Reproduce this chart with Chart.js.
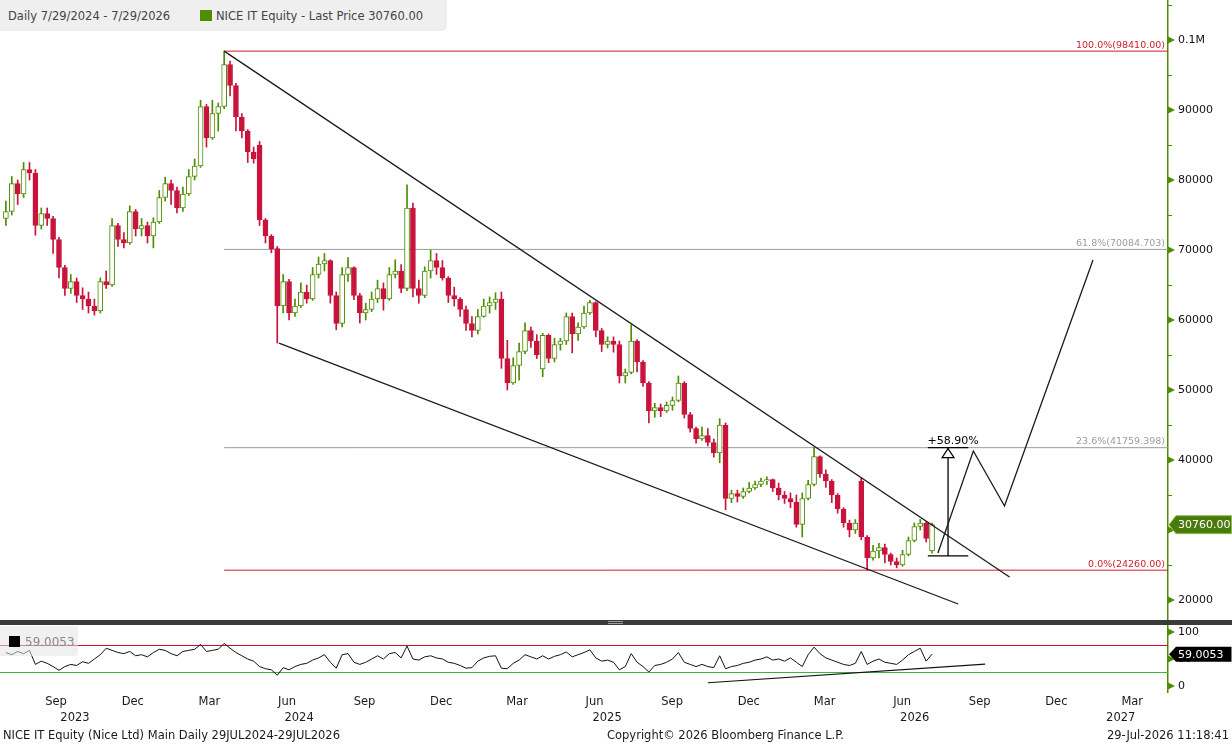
<!DOCTYPE html>
<html><head><meta charset="utf-8">
<script src="https://cdn.jsdelivr.net/npm/chart.js@4.4.1/dist/chart.umd.min.js"></script>
<style>
html,body{margin:0;padding:0;background:#fff;}
body{width:1232px;height:744px;overflow:hidden;position:relative;font-family:"DejaVu Sans",sans-serif;color:#222;}
.abs{position:absolute;}
#priceBox{left:0;top:0;width:1232px;height:620px;}
#rsiBox{left:0;top:625px;width:1232px;height:105px;}
#sep{left:0;top:620px;width:1232px;height:5px;background:#3a3a3a;}
#hdr{left:0;top:0;width:447px;height:31px;background:#efefef;border-radius:0 0 5px 0;font-size:11.5px;line-height:14px;color:#444;}
#rsiLbl{left:0;top:626px;width:78px;height:30px;background:rgba(228,228,228,0.55);border-radius:0 0 4px 0;}
.foot{font-size:11.5px;line-height:14px;color:#1a1a1a;top:728px;white-space:nowrap;}
</style></head>
<body>
<div id="priceBox" class="abs"><canvas id="price"></canvas></div>
<div id="sep" class="abs"><div class="abs" style="left:608px;top:1px;width:15px;height:1px;background:#9a9a9a"></div><div class="abs" style="left:608px;top:3px;width:15px;height:1px;background:#9a9a9a"></div></div>
<div id="rsiBox" class="abs"><canvas id="rsi"></canvas></div>
<div id="hdr" class="abs">
  <span class="abs" style="left:8px;top:9px;white-space:nowrap">Daily 7/29/2024 - 7/29/2026</span>
  <span class="abs" style="left:200px;top:10px;width:12px;height:11px;background:#4e8c00"></span>
  <span class="abs" style="left:216px;top:9px;white-space:nowrap">NICE IT Equity - Last Price 30760.00</span>
</div>
<div id="rsiLbl" class="abs">
  <span class="abs" style="left:9px;top:10px;width:11px;height:11px;background:#000"></span>
  <span class="abs" style="left:25px;top:9px;font-size:12px;line-height:14px;color:#8a8a8a">59.0053</span>
</div>
<div class="abs foot" style="left:3px">NICE IT Equity (Nice Ltd) Main Daily 29JUL2024-29JUL2026</div>
<div class="abs foot" style="left:607px">Copyright© 2026 Bloomberg Finance L.P.</div>
<div class="abs foot" style="right:3px">29-Jul-2026 11:18:41</div>
<script>
// ---------------- DATA ----------------
const dates = [
'2023-07-26','2023-08-02','2023-08-09','2023-08-16','2023-08-23','2023-08-30','2023-09-06','2023-09-13','2023-09-20','2023-09-27',
'2023-10-04','2023-10-11','2023-10-18','2023-10-25','2023-11-01','2023-11-08','2023-11-15','2023-11-22','2023-11-29','2023-12-06',
'2023-12-13','2023-12-20','2023-12-27','2024-01-03','2024-01-10','2024-01-17','2024-01-24','2024-01-31','2024-02-07','2024-02-14',
'2024-02-21','2024-02-28','2024-03-06','2024-03-13','2024-03-20','2024-03-27','2024-04-03','2024-04-10','2024-04-17','2024-04-24',
'2024-05-01','2024-05-08','2024-05-15','2024-05-22','2024-05-29','2024-06-05','2024-06-12','2024-06-19','2024-06-26','2024-07-03',
'2024-07-10','2024-07-17','2024-07-24','2024-07-31','2024-08-07','2024-08-14','2024-08-21','2024-08-28','2024-09-04','2024-09-11',
'2024-09-18','2024-09-25','2024-10-02','2024-10-09','2024-10-16','2024-10-23','2024-10-30','2024-11-06','2024-11-13','2024-11-20',
'2024-11-27','2024-12-04','2024-12-11','2024-12-18','2024-12-25','2025-01-01','2025-01-08','2025-01-15','2025-01-22','2025-01-29',
'2025-02-05','2025-02-12','2025-02-19','2025-02-26','2025-03-05','2025-03-12','2025-03-19','2025-03-26','2025-04-02','2025-04-09',
'2025-04-16','2025-04-23','2025-04-30','2025-05-07','2025-05-14','2025-05-21','2025-05-28','2025-06-04','2025-06-11','2025-06-18',
'2025-06-25','2025-07-02','2025-07-09','2025-07-16','2025-07-23','2025-07-30','2025-08-06','2025-08-13','2025-08-20','2025-08-27',
'2025-09-03','2025-09-10','2025-09-17','2025-09-24','2025-10-01','2025-10-08','2025-10-15','2025-10-22','2025-10-29','2025-11-05',
'2025-11-12','2025-11-19','2025-11-26','2025-12-03','2025-12-10','2025-12-17','2025-12-24','2025-12-31','2026-01-07','2026-01-14',
'2026-01-21','2026-01-28','2026-02-04','2026-02-11','2026-02-18','2026-02-25','2026-03-04','2026-03-11','2026-03-18','2026-03-25',
'2026-04-01','2026-04-08','2026-04-15','2026-04-22','2026-04-29','2026-05-06','2026-05-13','2026-05-20','2026-05-27','2026-06-03',
'2026-06-10','2026-06-17','2026-06-24','2026-07-01','2026-07-08','2026-07-15','2026-07-22','2026-07-29'];

const opens = [
74500,75500,79500,78000,81500,81000,73500,75200,74500,71500,
67500,64500,65500,63500,63000,62000,61300,65500,65000,73500,
71500,71000,75500,73000,73500,72000,74000,77500,79500,78500,
76000,78000,80500,82000,90500,86000,89500,90500,96500,93500,
89000,87000,84000,85000,74300,72000,70200,62000,65500,61000,
62000,64000,63000,66500,68000,68500,63500,59500,66500,67500,
63500,61000,61500,63000,64500,63000,66500,67000,64500,76000,
64500,63500,67000,68500,67500,66000,63500,63000,61500,59500,
58500,60500,62000,62500,63000,54500,51000,53500,55500,58500,
57000,53000,57800,54500,56500,57000,60500,58000,59000,61000,
62500,58500,56500,57000,56500,52000,52500,57000,54000,51000,
47000,47500,47000,47800,48500,51000,46500,44500,43000,43500,
42500,41000,45000,34500,35200,34800,35500,36000,36500,37000,
37200,36000,35000,34500,34000,30800,34500,36500,40500,38000,
37000,35000,33000,31000,30000,37000,29000,26000,27000,27500,
26500,25500,25000,26500,28500,30500,31000,27000];

const highs = [
77000,80500,80000,82500,82500,81500,76000,76000,74800,71800,
67800,66500,66000,64600,64000,63000,66000,67000,74500,73800,
72500,76300,75800,74500,74000,74600,78500,80400,80000,79000,
79000,81500,83000,91400,90800,91400,91000,98410,97000,93800,
89500,87200,84700,85500,74500,72200,70500,66500,65800,63000,
65300,65000,67500,69000,69500,68600,64000,67500,68900,67600,
63800,62400,64000,65700,65300,67500,68600,67900,79300,76700,
65700,67600,70000,69500,68500,66200,64700,63200,62000,60500,
61500,63000,63300,63900,64000,57100,54600,56700,59600,59000,
57900,58100,58000,57400,57400,61000,61000,59600,62000,62800,
62600,58800,57600,57600,57000,53000,59300,57200,54200,51200,
48100,48000,48300,49000,52000,51200,46800,44700,44700,44500,
43000,45900,45300,35700,35700,36000,36800,37000,37400,37600,
37300,36700,35500,35300,35000,35300,37100,41760,40600,38600,
37200,35200,33200,31400,31500,37400,29200,27800,28100,28000,
26700,26000,27100,29000,31000,31500,31200,31000];

const lows = [
73500,75000,76500,77500,80000,72100,73000,73500,69500,66000,
63500,63800,62500,61500,61000,60700,61000,64500,64800,70500,
70300,70800,72000,72000,71000,70300,73800,77000,76500,75300,
75500,77800,80000,81800,84700,85800,87000,90200,92000,87000,
86000,82500,82400,73500,71000,69600,56700,61000,60000,60500,
61800,62400,62800,66000,67000,62400,58600,59000,65500,62900,
59600,60000,61200,62500,61400,62800,66000,63900,64200,63300,
62400,63200,66000,66500,65700,62500,62000,60500,58500,57600,
58000,60400,61000,61500,53100,50000,50800,51400,55200,56100,
54500,51900,53900,54000,55700,56500,55300,57100,58800,60800,
57600,55500,56000,55400,51000,51000,52300,52600,50500,45300,
46100,46200,46800,47100,48300,46000,44000,42400,42800,42000,
40400,39600,32900,33900,34000,34500,35300,35800,36200,36500,
35500,34300,33800,33200,30400,29000,34300,36300,37500,36100,
33900,32400,30400,29000,29500,28600,24260,25700,26000,25300,
25000,24600,24800,26300,28300,30000,28300,26700];

const closes = [
75500,79500,78000,81500,81000,73500,75200,74500,71500,67500,
64500,65500,63500,63000,62000,61300,65500,65000,73500,71500,
71000,75500,73000,73500,72000,74000,77500,79500,78500,76000,
78000,80500,82000,90500,86000,89500,90500,96500,93500,89000,
87000,84000,83000,74300,72000,70200,62000,65500,61000,62000,
64000,63000,66500,68000,68500,63500,59500,66500,67500,63500,
61000,61500,63000,64500,63000,66500,67000,64500,76000,64500,
63500,67000,68500,67500,66000,63500,63000,61500,59500,58500,
60500,62000,62500,63000,54500,51000,53500,55500,58500,57000,
55000,57800,54500,56500,57000,60500,58000,59000,61000,62500,
58500,56500,57000,56500,52000,52500,57000,54000,51000,47000,
47500,47000,47800,48500,51000,46500,44500,43000,43500,42500,
41000,45000,34500,35200,34800,35500,36000,36500,37000,37200,
36000,35000,34500,34000,30800,34500,36500,40500,38000,37000,
35000,33000,31000,30000,31000,29000,26000,27000,27500,26500,
25500,25000,26500,28500,30500,31000,28800,30760];

const rsi = [
62,58,64,60,66,40,46,42,36,29,
36,40,38,45,42,50,58,70,66,62,
60,64,56,58,54,62,68,66,60,56,
64,66,68,77,64,66,68,79,70,62,
56,50,46,36,32,30,20,34,30,36,
40,42,48,52,58,44,33,58,60,44,
40,44,50,56,50,60,62,52,74,50,
48,54,56,52,50,44,42,38,33,34,
46,52,55,56,33,32,42,48,58,54,
50,56,50,55,58,63,54,58,62,67,
52,46,48,44,30,36,60,44,36,26,
38,40,44,50,62,44,40,36,40,36,
34,56,32,36,38,42,44,48,50,54,
48,50,46,52,44,36,58,72,60,52,
48,44,40,38,42,64,40,46,50,44,
42,40,48,58,64,70,46,59.0053];

const lastPrice = 30760.00;
const fibLevels = [98410.00, 70084.703, 41759.398, 24260.00];
const fibLabels = ['100.0%(98410.00)', '61.8%(70084.703)', '23.6%(41759.398)', '0.0%(24260.00)'];
const fibStartDate = '2024-04-10';
const upperTrendDates = ['2024-04-10', '2026-10-29'];
const upperTrendValues = [98410, 23290];
const lowerTrendDates = ['2024-06-14', '2026-08-29'];
const lowerTrendValues = [56700, 19430];
const projDates = ['2026-08-05', '2026-09-16', '2026-10-23', '2027-02-05'];
const projValues = [26710, 41290, 33430, 68570];
const measureDates = ['2026-07-24', '2026-08-17', '2026-09-10'];
const measureBase = 26290, measureTop = 41770, measureLabel = '+58.90%';
const rsiUpper = 75, rsiLower = 25;
const rsiTrendDates = ['2025-11-05', '2026-09-30'];
const rsiTrendValues = [6, 40.7];

const priceTickValues = [20000,25000,30000,35000,40000,45000,50000,55000,60000,65000,70000,75000,80000,85000,90000,95000,100000,105000];
const priceTickLabels = ['20000','','30000','','40000','','50000','','60000','','70000','','80000','','90000','','0.1M',''];
const rsiTickValues = [0, 50, 100];
const rsiTickLabels = ['0', '50', '100'];
const monthTickDates = ['2023-09-01','2023-12-01','2024-03-01','2024-06-01','2024-09-01','2024-12-01','2025-03-01','2025-06-01','2025-09-01','2025-12-01','2026-03-01','2026-06-01','2026-09-01','2026-12-01','2027-03-01'];
const monthTickLabels = ['Sep','Dec','Mar','Jun','Sep','Dec','Mar','Jun','Sep','Dec','Mar','Jun','Sep','Dec','Mar'];
const yearLabels = ['2023','2024','2025','2026','2027'];
const axisStart = '2023-07-19', axisEnd = '2027-05-05';

// ---------------- STYLE / HELPERS ----------------
const FONT = 'DejaVu Sans';
const UP = '#4e8c00', DN = '#c8143c', AXIS = '#4e8c00';
const fibColors = ['#d01c2c', '#9c9c9c', '#9c9c9c', '#d01c2c'];
const dayNum = s => Date.UTC(+s.slice(0,4), +s.slice(5,7)-1, +s.slice(8,10)) / 864e5;
const X = dates.map(dayNum);
const xMin = dayNum(axisStart), xMax = dayNum(axisEnd);
const yMin = 17142.86, yMax = 105714.29;
const isUp = closes.map((c,i) => c >= opens[i]);
const pts = (ds, vs) => ds.map((d,i) => ({x: dayNum(d), y: vs[i]}));
const lineDs = (data, color, width, order) => ({type:'line', data, borderColor:color, borderWidth:width, pointRadius:0, fill:false, tension:0, order});

function drawAxisMarks(chart, labels) {
  const ctx = chart.ctx, ys = chart.scales.y, r = chart.chartArea.right;
  ctx.save();
  ctx.fillStyle = AXIS; ctx.strokeStyle = AXIS; ctx.lineWidth = 1;
  ys.ticks.forEach((t, i) => {
    const y = ys.getPixelForValue(t.value);
    if (labels[i]) {
      ctx.beginPath(); ctx.moveTo(r, y - 3.5); ctx.lineTo(r + 7, y); ctx.lineTo(r, y + 3.5); ctx.closePath(); ctx.fill();
    } else {
      ctx.beginPath(); ctx.moveTo(r, Math.round(y) + 0.5); ctx.lineTo(r + 4, Math.round(y) + 0.5); ctx.stroke();
    }
  });
  ctx.restore();
}
function drawTag(ctx, r, y, h, text, fill, stroke) {
  ctx.save();
  ctx.beginPath();
  ctx.moveTo(r + 1, y); ctx.lineTo(r + 8, y - h/2); ctx.lineTo(1231.5, y - h/2); ctx.lineTo(1231.5, y + h/2); ctx.lineTo(r + 8, y + h/2); ctx.closePath();
  ctx.fillStyle = fill; ctx.fill();
  if (stroke) { ctx.strokeStyle = stroke; ctx.lineWidth = 1; ctx.stroke(); }
  ctx.fillStyle = '#fff'; ctx.font = `11px ${FONT}`; ctx.textAlign = 'left'; ctx.textBaseline = 'middle';
  ctx.fillText(text, r + 10, y + 0.5);
  ctx.restore();
}

const priceDeco = {
  id: 'priceDeco',
  afterDraw(chart) {
    const ctx = chart.ctx, xs = chart.scales.x, ys = chart.scales.y, a = chart.chartArea;
    drawAxisMarks(chart, priceTickLabels);
    ctx.save();
    ctx.font = `9.5px ${FONT}`; ctx.textAlign = 'right'; ctx.textBaseline = 'bottom';
    fibLevels.forEach((v, i) => { ctx.fillStyle = fibColors[i]; ctx.fillText(fibLabels[i], a.right - 3, ys.getPixelForValue(v) - 1); });
    const ax = xs.getPixelForValue(dayNum(measureDates[1])), ty = ys.getPixelForValue(measureTop);
    ctx.fillStyle = '#000'; ctx.font = `11px ${FONT}`; ctx.textAlign = 'center';
    ctx.fillText(measureLabel, ax + 5, ty - 1);
    ctx.beginPath(); ctx.moveTo(ax, ty + 1); ctx.lineTo(ax + 6, ty + 10); ctx.lineTo(ax - 6, ty + 10); ctx.closePath();
    ctx.fillStyle = '#fff'; ctx.fill(); ctx.strokeStyle = '#000'; ctx.lineWidth = 1.2; ctx.stroke();
    ctx.restore();
    drawTag(ctx, a.right, ys.getPixelForValue(lastPrice), 18, lastPrice.toFixed(2), '#4b7a0c', '#8fbf4a');
  }
};

new Chart(document.getElementById('price'), {
  type: 'bar',
  data: {
    datasets: [
      {type:'bar', data: X.map((x,i) => ({x, y:[Math.min(opens[i],closes[i]), Math.max(opens[i],closes[i])]})),
       backgroundColor: isUp.map(u => u ? '#ffffff' : DN), borderColor: isUp.map(u => u ? UP : DN),
       borderWidth: 1, borderSkipped: false, barThickness: 5, minBarLength: 1, grouped: false, order: 2},
      {type:'bar', data: X.map((x,i) => ({x, y:[lows[i], highs[i]]})),
       backgroundColor: isUp.map(u => u ? UP : DN), borderWidth: 0, barThickness: 1, grouped: false, order: 3},
      ...fibLevels.map((v,i) => lineDs([{x: dayNum(fibStartDate), y: v}, {x: xMax, y: v}], fibColors[i], 1, 4)),
      lineDs(pts(upperTrendDates, upperTrendValues), '#1a1a1a', 1.3, 0),
      lineDs(pts(lowerTrendDates, lowerTrendValues), '#1a1a1a', 1.3, 0),
      lineDs(pts(projDates, projValues), '#1a1a1a', 1.3, 0),
      lineDs([{x: dayNum(measureDates[0]), y: measureBase}, {x: dayNum(measureDates[2]), y: measureBase}], '#000', 1.3, 0),
      lineDs([{x: dayNum(measureDates[0]), y: measureTop}, {x: dayNum(measureDates[2]), y: measureTop}], '#000', 1.3, 0),
      lineDs([{x: dayNum(measureDates[1]), y: measureBase}, {x: dayNum(measureDates[1]), y: measureTop}], '#000', 1.3, 0)
    ]
  },
  options: {
    responsive: true, maintainAspectRatio: false, animation: false, events: [],
    layout: {padding: 0},
    plugins: {legend: {display: false}, tooltip: {enabled: false}},
    scales: {
      x: {type: 'linear', display: false, min: xMin, max: xMax, offset: false},
      y: {type: 'linear', position: 'right', min: yMin, max: yMax,
          afterBuildTicks: s => { s.ticks = priceTickValues.map(v => ({value: v})); },
          afterFit: s => { s.width = 64; s.paddingTop = 0; s.paddingBottom = 0; },
          ticks: {autoSkip: false, padding: 4, color: '#111', font: {family: FONT, size: 11},
                  callback: (v, i) => priceTickLabels[i]},
          grid: {drawOnChartArea: false, drawTicks: true, tickLength: 6, color: 'rgba(0,0,0,0)'},
          border: {display: true, color: AXIS, width: 1.5}}
    }
  },
  plugins: [priceDeco]
});

const rsiDeco = {
  id: 'rsiDeco',
  afterDraw(chart) {
    const ctx = chart.ctx, xs = chart.scales.x, ys = chart.scales.y, a = chart.chartArea;
    drawAxisMarks(chart, rsiTickLabels);
    ctx.save();
    ctx.font = `11.5px ${FONT}`; ctx.fillStyle = '#1a1a1a'; ctx.textAlign = 'center'; ctx.textBaseline = 'middle';
    yearLabels.forEach(y => {
      const s = Math.max(dayNum(`${y}-01-01`), xMin), e = Math.min(dayNum(`${+y + 1}-01-01`), xMax);
      ctx.fillText(y, (xs.getPixelForValue(s) + xs.getPixelForValue(e)) / 2 + 5, 93);
    });
    ctx.restore();
    const last = rsi[rsi.length - 1];
    drawTag(ctx, a.right, ys.getPixelForValue(last), 15, last.toFixed(4), '#000', null);
  }
};

new Chart(document.getElementById('rsi'), {
  type: 'line',
  data: {
    datasets: [
      lineDs(X.map((x,i) => ({x, y: rsi[i]})), '#111', 1, 0),
      lineDs([{x: xMin, y: rsiUpper}, {x: xMax, y: rsiUpper}], '#c8102e', 1, 1),
      lineDs([{x: xMin, y: rsiLower}, {x: xMax, y: rsiLower}], '#3cb43c', 1, 1),
      lineDs(pts(rsiTrendDates, rsiTrendValues), '#111', 1.2, 0)
    ]
  },
  options: {
    responsive: true, maintainAspectRatio: false, animation: false, events: [],
    layout: {padding: 0},
    plugins: {legend: {display: false}, tooltip: {enabled: false}},
    scales: {
      x: {type: 'linear', min: xMin, max: xMax, offset: false,
          afterBuildTicks: s => { s.ticks = monthTickDates.map(d => ({value: dayNum(d)})); },
          afterFit: s => { s.height = 38; s.paddingLeft = 0; s.paddingRight = 0; },
          ticks: {autoSkip: false, maxRotation: 0, minRotation: 0, padding: 3, labelOffset: 19, color: '#1a1a1a',
                  font: {family: FONT, size: 11.5}, callback: (v, i) => monthTickLabels[i]},
          grid: {display: false, drawTicks: false, tickLength: 0}, border: {display: false}},
      y: {type: 'linear', position: 'right', min: -11.1, max: 113,
          afterBuildTicks: s => { s.ticks = rsiTickValues.map(v => ({value: v})); },
          afterFit: s => { s.width = 64; s.paddingTop = 0; s.paddingBottom = 0; },
          ticks: {autoSkip: false, padding: 4, color: '#111', font: {family: FONT, size: 11},
                  callback: (v, i) => rsiTickLabels[i]},
          grid: {drawOnChartArea: false, drawTicks: true, tickLength: 6, color: 'rgba(0,0,0,0)'},
          border: {display: true, color: AXIS, width: 1.5}}
    }
  },
  plugins: [rsiDeco]
});
</script>
</body></html>
